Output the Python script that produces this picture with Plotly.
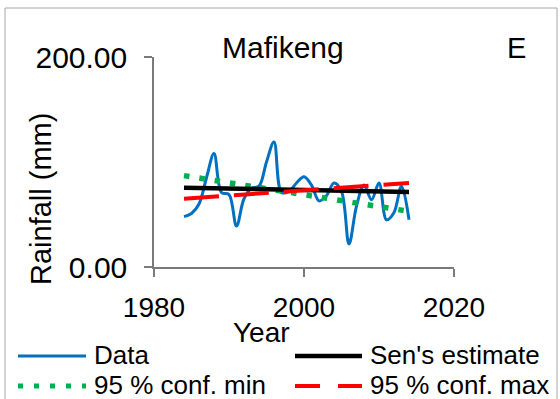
import plotly.graph_objects as go

# Annual rainfall series for Mafikeng and its Sen's slope trend lines
years = list(range(1984, 2015))
rainfall = [48, 51, 60, 85, 108, 71, 69, 39, 65, 75, 77, 100, 119, 71, 72, 80,
            86, 78, 63, 68, 80, 72, 22, 58, 78, 64, 80, 45, 52, 77, 45]

trend_years = [1984, 2014]
sens_estimate = [75.5, 71.5]
conf_min = [87, 53]
conf_max = [65, 80]

x_ticks = [1980, 2000, 2020]
y_ticks = [0, 200]

FONT = "Liberation Sans"
BLUE = "#0070C0"
GREEN = "#00B050"
RED = "#FF0000"
AXIS = "#7a7a7a"

# plot-area geometry in pixels (used to place text and legend in paper units)
W, H = 560, 399
L, R, T, B = 154, 454, 57, 267


def px(x):
    return (x - L) / (R - L)


def py(y):
    return (B - y) / (B - T)


fig = go.Figure()
fig.add_trace(go.Scatter(x=years, y=rainfall, mode="lines", name="Data",
                         line=dict(color=BLUE, width=3, shape="spline", smoothing=1)))
fig.add_trace(go.Scatter(x=trend_years, y=conf_min, mode="lines", name="95 % conf. min",
                         line=dict(color=GREEN, width=5.5, dash="5.5px,10px")))
fig.add_trace(go.Scatter(x=trend_years, y=sens_estimate, mode="lines", name="Sen's estimate",
                         line=dict(color="black", width=4.5)))
fig.add_trace(go.Scatter(x=trend_years, y=conf_max, mode="lines", name="95 % conf. max",
                         line=dict(color=RED, width=4, dash="35px,15px")))

annotations = [
    dict(text="Mafikeng", x=px(283), y=py(48), font=dict(size=30)),
    dict(text="E", x=px(516), y=py(48), font=dict(size=29)),
    dict(text="Year", x=px(261), y=py(332), font=dict(size=28)),
    dict(text="Rainfall (mm)", x=px(41), y=py(199), textangle=-90, font=dict(size=29)),
]

# legend: two rows, two columns
legend_rows = [
    [("Data", dict(color=BLUE, width=3)),
     ("Sen's estimate", dict(color="black", width=4.5))],
    [("95 % conf. min", dict(color=GREEN, width=5, dash="5px,11px")),
     ("95 % conf. max", dict(color=RED, width=4, dash="25px,18px"))],
]
row_y = [355, 385]
col_x = [(18, 86, 92), (295, 362, 368)]
shapes = []
for r, row in enumerate(legend_rows):
    for c, (label, style) in enumerate(row):
        x0, x1, xt = col_x[c]
        shapes.append(dict(type="line", xref="paper", yref="paper",
                           x0=px(x0), x1=px(x1), y0=py(row_y[r] + 1), y1=py(row_y[r] + 1),
                           line=style))
        annotations.append(dict(text=label, x=px(xt), y=py(row_y[r]), xanchor="left",
                                font=dict(size=26)))

for a in annotations:
    a.update(xref="paper", yref="paper", showarrow=False)
    a.setdefault("xanchor", "center")
    a.setdefault("yanchor", "middle")
    a["font"].update(family=FONT, color="black")

# outer chart frame
shapes.append(dict(type="rect", xref="paper", yref="paper",
                   x0=px(5), x1=px(557), y0=py(403), y1=py(8),
                   line=dict(color="#a6a6a6", width=1)))

fig.update_layout(
    width=W, height=H,
    margin=dict(l=L, r=W - R, t=T, b=H - B),
    paper_bgcolor="white", plot_bgcolor="white",
    showlegend=False,
    font=dict(family=FONT, color="black", size=27),
    annotations=annotations,
    shapes=shapes,
    xaxis=dict(range=[1980, 2020], tickvals=x_ticks, showgrid=False, zeroline=False,
               showline=True, linecolor=AXIS, linewidth=1.5,
               ticks="outside", ticklen=8, tickcolor=AXIS, tickwidth=1.5,
               tickfont=dict(size=28), ticklabelstandoff=7),
    yaxis=dict(range=[0, 200], tickvals=y_ticks, tickformat=".2f", showgrid=False,
               zeroline=False, showline=True, linecolor=AXIS, linewidth=1.5,
               ticks="outside", ticklen=8, tickcolor=AXIS, tickwidth=1.5,
               tickfont=dict(size=30), ticklabelstandoff=11),
)

fig.write_html("out.html")
